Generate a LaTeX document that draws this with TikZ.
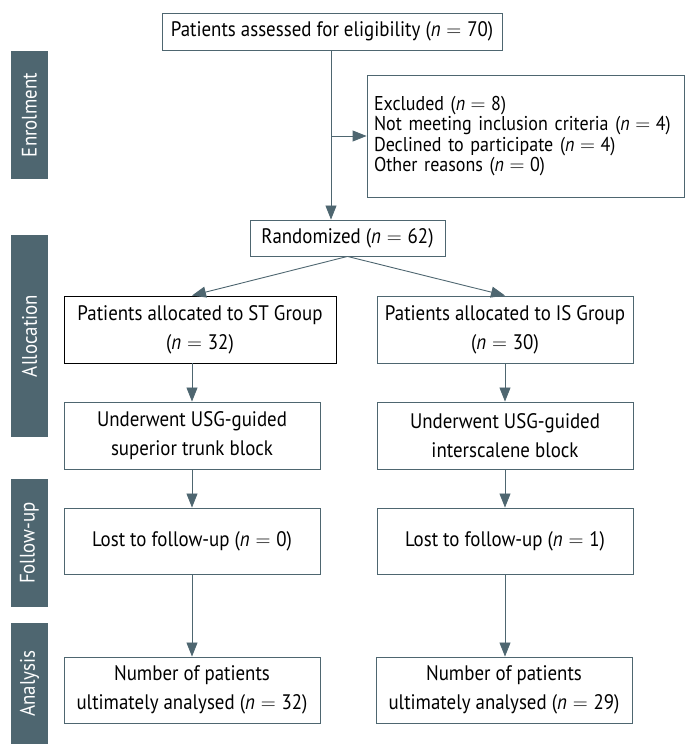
\documentclass[tikz,border=0pt]{standalone}
\usepackage{fontspec}
\setmainfont{PT Sans}[FakeStretch=0.9]
\usetikzlibrary{arrows.meta,positioning}
\definecolor{slateblue}{RGB}{78,102,112}
\newcommand{\nn}[1]{(\textit{n}\;$=$\;#1)}

\tikzset{
  flowbox/.style={draw=slateblue, line width=0.9pt, fill=white, align=center,
    inner sep=4pt, minimum height=67pt, minimum width=256pt,
    font=\fontsize{21}{29}\selectfont},
  stagebar/.style={fill=slateblue, text=white, rotate=90, minimum height=37pt,
    inner sep=0pt, font=\fontsize{21}{25}\selectfont},
  flowarrow/.style={draw=slateblue, line width=0.9pt, -{Triangle[length=14pt,width=11pt]}},
}

\begin{document}
\begin{tikzpicture}[x=1pt, y=1pt]
  \useasboundingbox (0,0) rectangle (685,744);

  % stage labels on the left
  \node[stagebar, minimum width=128pt] (enrolbar) at (29.5,629) {Enrolment};
  \node[stagebar, minimum width=202pt] (allocbar) at (29.5,408) {Allocation};
  \node[stagebar, minimum width=128pt] (followbar) at (29.5,201) {Follow-up};
  \node[stagebar, minimum width=121pt] (analysisbar) at (29.5,60.5) {Analysis};

  % enrolment
  \node[flowbox, minimum width=340pt, minimum height=37pt] (assessed) at (332,712.5)
    {Patients assessed for eligibility \nn{70}};
  \node[flowbox, minimum width=317pt, minimum height=122pt, align=left,
    text width=303pt, inner xsep=7pt, font=\fontsize{20}{20.5}\selectfont] (excluded) at (525.5,608)
    {Excluded \nn{8}\\
     Not meeting inclusion criteria \nn{4}\\
     Declined to participate \nn{4}\\
     Other reasons \nn{0}};
  \node[flowbox, minimum width=195pt, minimum height=36pt] (randomized) at (347.5,506)
    {Randomized \nn{62}};

  % allocation
  \node[flowbox, draw=black, minimum width=272pt] (stgroup) at (200,414.5)
    {Patients allocated to ST Group\\\nn{32}};
  \node[flowbox] (isgroup) at (505,414.5)
    {Patients allocated to IS Group\\\nn{30}};
  \node[flowbox] (stblock) at (192,308.5)
    {Underwent USG-guided\\superior trunk block};
  \node[flowbox] (isblock) at (505,308.5)
    {Underwent USG-guided\\interscalene block};

  % follow-up
  \node[flowbox, minimum height=66pt] (stlost) at (192,203) {Lost to follow-up \nn{0}};
  \node[flowbox, minimum height=66pt] (islost) at (505,203) {Lost to follow-up \nn{1}};

  % analysis
  \node[flowbox, minimum height=66pt] (stanalysed) at (192,54)
    {Number of patients\\ultimately analysed \nn{32}};
  \node[flowbox, minimum height=66pt] (isanalysed) at (504,54)
    {Number of patients\\ultimately analysed \nn{29}};

  % connectors
  \draw[flowarrow] (assessed.south -| 331,0) -- (randomized.north -| 331,0);
  \draw[flowarrow] (excluded.west -| 331,0) -- (excluded.west);
  \draw[flowarrow] (randomized.south) -- (stblock.north |- stgroup.north);
  \draw[flowarrow] (randomized.south) -- (isgroup.north);
  \draw[flowarrow] (stblock.north |- stgroup.south) -- (stblock.north);
  \draw[flowarrow] (isgroup.south) -- (isblock.north);
  \draw[flowarrow] (stblock.south) -- (stlost.north);
  \draw[flowarrow] (isblock.south) -- (islost.north);
  \draw[flowarrow] (stlost.south) -- (stanalysed.north);
  \draw[flowarrow] (islost.south) -- (islost.south |- isanalysed.north);
\end{tikzpicture}
\end{document}
